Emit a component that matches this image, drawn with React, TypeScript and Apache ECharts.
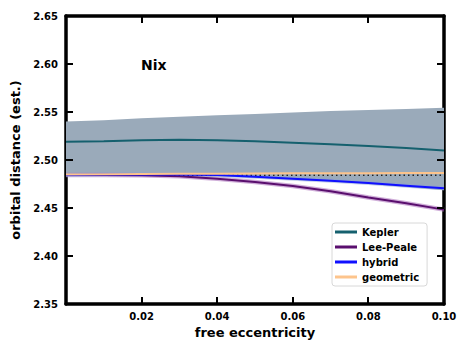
import React, { useEffect, useRef } from "react";
import * as echarts from "echarts";

const ecc = [0, 0.01, 0.02, 0.03, 0.04, 0.05, 0.06, 0.07, 0.08, 0.09, 0.1];
const kepler = [2.519, 2.5195, 2.5205, 2.521, 2.5205, 2.5195, 2.518, 2.5165, 2.5145, 2.5125, 2.51];
const keplerUpper = [2.54, 2.5415, 2.5435, 2.545, 2.5465, 2.548, 2.5495, 2.551, 2.552, 2.553, 2.5545];
const keplerLower = [2.4835, 2.4838, 2.4838, 2.4835, 2.483, 2.4815, 2.4795, 2.4775, 2.475, 2.472, 2.4685];
const leePeale = [2.4845, 2.4845, 2.484, 2.483, 2.4805, 2.477, 2.473, 2.4675, 2.461, 2.455, 2.4483];
const hybrid = [2.4845, 2.485, 2.4852, 2.485, 2.4843, 2.4825, 2.4805, 2.4783, 2.476, 2.4733, 2.4705];
const geometric = [2.485, 2.4852, 2.4854, 2.4856, 2.4858, 2.486, 2.4861, 2.4862, 2.4863, 2.4864, 2.4865];
const reference = [2.4841, 2.4841];
const refX = [0, 0.1];
const xTicks = [0.02, 0.04, 0.06, 0.08, 0.1];
const yTicks = [2.35, 2.4, 2.45, 2.5, 2.55, 2.6, 2.65];

const FONT = "DejaVu Sans";

export default function App() {
  const ref = useRef<HTMLDivElement>(null);
  useEffect(() => {
    if (!ref.current) return;
    const chart = echarts.init(ref.current, null, { renderer: "svg" });
    const pts = (ys: number[]) => ecc.map((x, i) => [x, ys[i]]);
    const axLine = () => ({ show: true, onZero: false, lineStyle: { color: "black", width: 3.5 } });
    const noTick = () => ({ show: false });
    chart.setOption({
      animation: false,
      backgroundColor: "#fff",
      grid: { left: 66, right: 27, top: 16, bottom: 49 },
      title: {
        text: "Nix",
        left: 141,
        top: 58,
        textStyle: { fontFamily: FONT, fontWeight: "bold", fontSize: 14, color: "#000" },
        padding: 0,
      },
      legend: {
        orient: "vertical",
        left: 332,
        top: 223,
        data: ["Kepler", "Lee-Peale", "hybrid", "geometric"],
        icon: "rect",
        itemWidth: 22,
        itemHeight: 3,
        itemGap: 3,
        padding: [3, 8, 3, 3],
        backgroundColor: "#fff",
        borderColor: "#d8d8d8",
        borderWidth: 1,
        borderRadius: 3,
        textStyle: { fontFamily: FONT, fontWeight: "bold", fontSize: 10, color: "#000", lineHeight: 12 },
      },
      xAxis: [
        {
          type: "value",
          min: 0,
          max: 0.1,
          interval: 0.02,
          name: "free eccentricity",
          nameLocation: "middle",
          nameGap: 22,
          nameTextStyle: { fontFamily: FONT, fontWeight: "bold", fontSize: 13, color: "#000" },
          axisLine: axLine(),
          axisTick: noTick(),
          splitLine: { show: false },
          axisLabel: {
            showMinLabel: false,
            margin: 7,
            fontFamily: FONT,
            fontWeight: "bold",
            fontSize: 10,
            color: "#000",
            formatter: (v: number) => (xTicks.some((t) => Math.abs(t - v) < 1e-9) ? v.toFixed(2) : ""),
          },
        },
        {
          type: "value",
          position: "top",
          min: 0,
          max: 0.1,
          interval: 0.02,
          axisLine: axLine(),
          axisTick: noTick(),
          splitLine: { show: false },
          axisLabel: { show: false },
        },
      ],
      yAxis: [
        {
          type: "value",
          min: 2.35,
          max: 2.65,
          interval: 0.05,
          name: "orbital distance (est.)",
          nameLocation: "middle",
          nameGap: 43,
          nameTextStyle: { fontFamily: FONT, fontWeight: "bold", fontSize: 13, color: "#000" },
          axisLine: axLine(),
          axisTick: noTick(),
          splitLine: { show: false },
          axisLabel: {
            margin: 8,
            fontFamily: FONT,
            fontWeight: "bold",
            fontSize: 10,
            color: "#000",
            formatter: (v: number) => (yTicks.some((t) => Math.abs(t - v) < 1e-9) ? v.toFixed(2) : ""),
          },
        },
        {
          type: "value",
          position: "right",
          min: 2.35,
          max: 2.65,
          interval: 0.05,
          axisLine: axLine(),
          axisTick: noTick(),
          splitLine: { show: false },
          axisLabel: { show: false },
        },
      ],
      series: [
        {
          name: "band",
          type: "custom",
          data: [0],
          silent: true,
          z: 1,
          renderItem: (_params: any, api: any) => {
            const upper = ecc.map((x, i) => api.coord([x, keplerUpper[i]]));
            const lower = ecc.map((x, i) => api.coord([x, keplerLower[i]])).reverse();
            return {
              type: "polygon",
              shape: { points: upper.concat(lower) },
              style: { fill: "#9aaaba", stroke: "none" },
            };
          },
        },
        {
          name: "leeShade",
          type: "line",
          data: pts(leePeale),
          symbol: "none",
          lineStyle: { color: "#b07ac0", width: 4.5, opacity: 0.6 },
          z: 2,
        },
        {
          name: "hybridShade",
          type: "line",
          data: pts(hybrid),
          symbol: "none",
          lineStyle: { color: "#8aa0d8", width: 4, opacity: 0.5 },
          z: 2,
        },
        {
          name: "reference",
          type: "line",
          data: refX.map((x, i) => [x, reference[i]]),
          symbol: "none",
          lineStyle: { color: "#222", width: 1.5, type: [1.5, 3] },
          z: 3,
        },
        {
          name: "Kepler",
          type: "line",
          data: pts(kepler),
          symbol: "none",
          color: "#15606e",
          lineStyle: { color: "#15606e", width: 2 },
          z: 4,
        },
        {
          name: "Lee-Peale",
          type: "line",
          data: pts(leePeale),
          symbol: "none",
          color: "#5a0f6e",
          lineStyle: { color: "#5a0f6e", width: 2 },
          z: 4,
        },
        {
          name: "hybrid",
          type: "line",
          data: pts(hybrid),
          symbol: "none",
          color: "#1010ff",
          lineStyle: { color: "#1010ff", width: 2 },
          z: 5,
        },
        {
          name: "geometric",
          type: "line",
          data: pts(geometric),
          symbol: "none",
          color: "#fdc48c",
          lineStyle: { color: "#fdc48c", width: 2 },
          z: 6,
        },
        {
          name: "ticks",
          type: "custom",
          data: [0],
          silent: true,
          clip: false,
          z: 10,
          renderItem: (_params: any, api: any) => {
            const L = 7;
            const st = { stroke: "#000", lineWidth: 2, fill: "none" };
            const children: any[] = [];
            xTicks.forEach((t) => {
              const b = api.coord([t, 2.35]);
              const tp = api.coord([t, 2.65]);
              const x = Math.round(b[0]);
              children.push({ type: "line", shape: { x1: x, y1: b[1], x2: x, y2: b[1] - L }, style: st });
              children.push({ type: "line", shape: { x1: x, y1: tp[1], x2: x, y2: tp[1] + L }, style: st });
            });
            yTicks.forEach((t) => {
              const l = api.coord([0, t]);
              const r = api.coord([0.1, t]);
              const y = Math.round(l[1]);
              children.push({ type: "line", shape: { x1: l[0], y1: y, x2: l[0] + L, y2: y }, style: st });
              children.push({ type: "line", shape: { x1: r[0], y1: y, x2: r[0] - L, y2: y }, style: st });
            });
            return { type: "group", children };
          },
        },
      ],
    });
    return () => chart.dispose();
  }, []);
  return <div ref={ref} style={{ width: 471, height: 353, position: "absolute", left: 0, top: 0 }} />;
}
